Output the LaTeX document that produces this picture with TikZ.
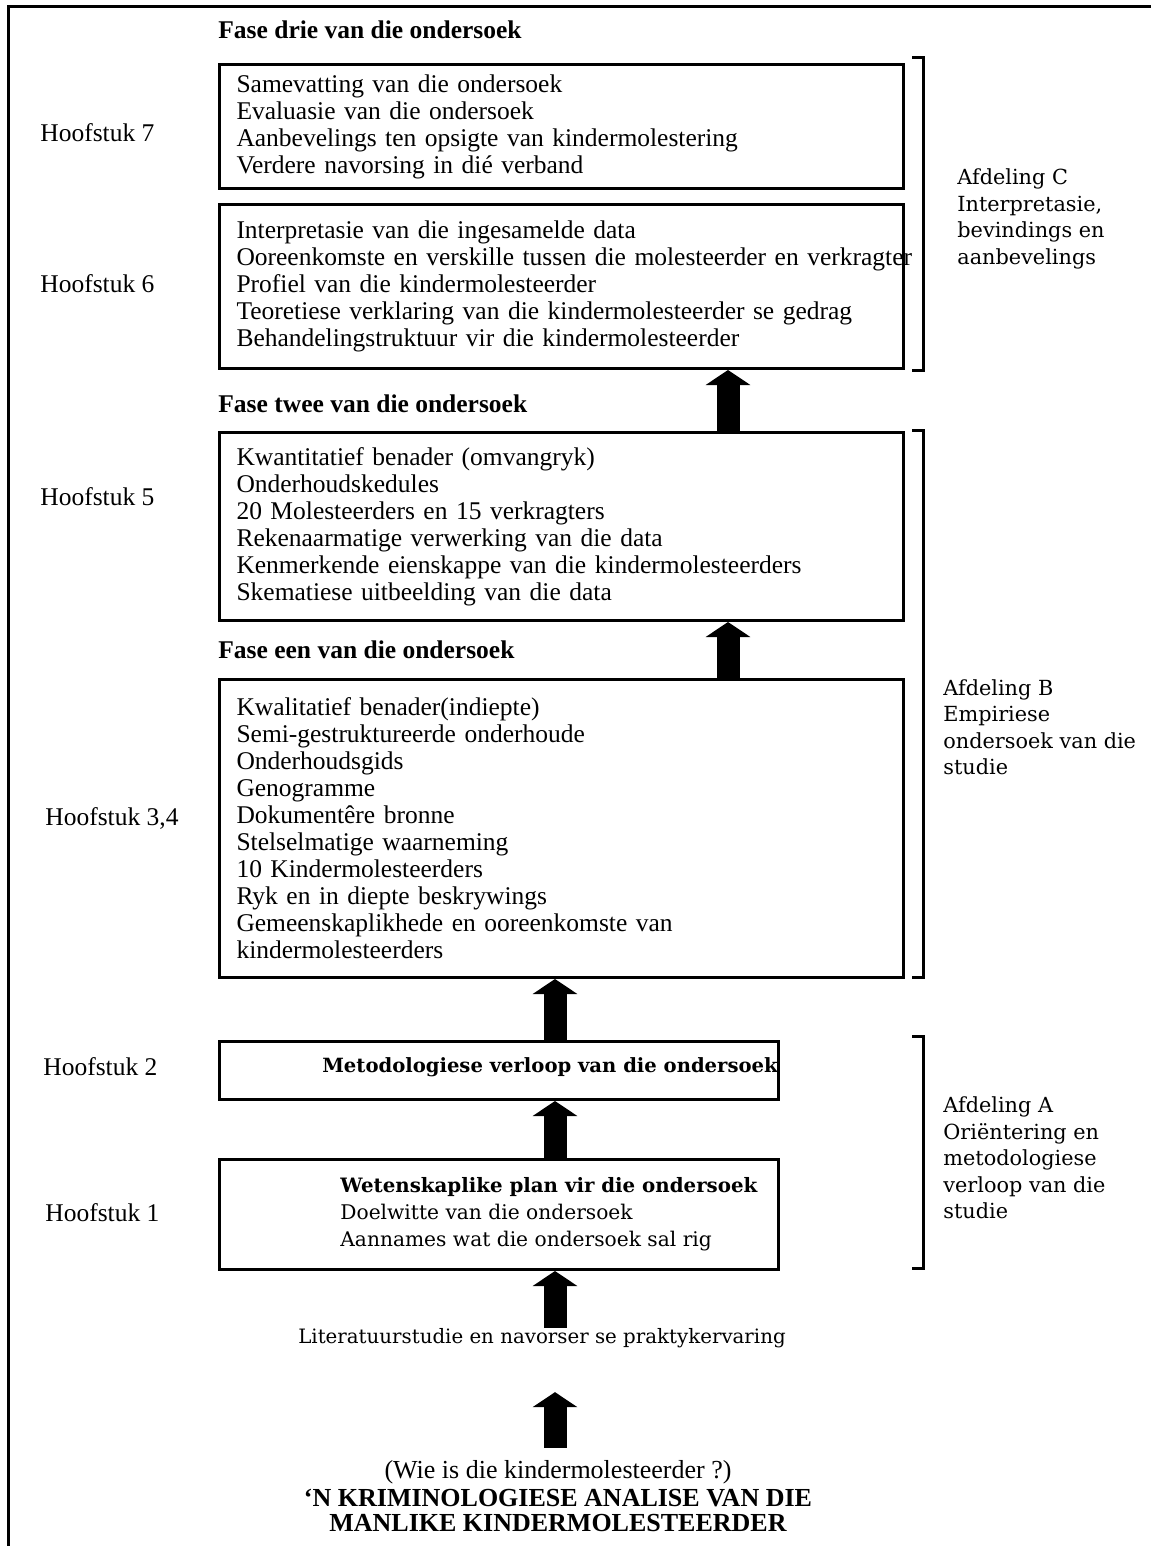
\documentclass[tikz,border=0pt]{standalone}
\usepackage{fontspec}
\setmainfont{Liberation Serif}
\newfontfamily\lucfont{DejaVu Serif}
\usetikzlibrary{arrows.meta}

\begin{document}
\begin{tikzpicture}[x=0.5pt,y=-0.5pt,
    stage/.style={draw, line width=1.5pt, anchor=north west, align=left, text width=325pt, inner xsep=8.5pt, inner ysep=0pt, font=\fontsize{12.75}{13.5}\selectfont},
    plainbox/.style={draw, line width=1.5pt, anchor=north west, minimum width=279.5pt, inner sep=0pt},
    hoof/.style={anchor=west, inner sep=0pt, font=\fontsize{12.75}{13.5}\selectfont},
    fase/.style={anchor=west, inner sep=0pt, font=\fontsize{12.75}{13.5}\selectfont\bfseries},
    afd/.style={anchor=west, align=left, inner sep=0pt, font=\lucfont\fontsize{10.4}{13.25}\selectfont},
    upar/.style={line width=11.5pt, -{Triangle[width=22pt,length=7.5pt]}},
    brak/.style={line width=1.5pt}
    ]
    \useasboundingbox (0,0) rectangle (1151,1546);
    \draw [line width=1.5pt] (8,1546) -- (8,7) -- (1151,7);

    % fase drie
    \node [fase] (fase3) at (218,30) {Fase drie van die ondersoek};
    \node [stage, minimum height=62pt] (box7) at (218,63) {Samevatting van die ondersoek\\Evaluasie van die ondersoek\\Aanbevelings ten opsigte van kindermolestering\\Verdere navorsing in dié verband};
    \node [stage, minimum height=82pt] (box6) at (218,203) {Interpretasie van die ingesamelde data\\\mbox{Ooreenkomste en verskille tussen die molesteerder en verkragter}\\Profiel van die kindermolesteerder\\Teoretiese verklaring van die kindermolesteerder se gedrag\\Behandelingstruktuur vir die kindermolesteerder};
    \node [hoof] (hs7) at (40,133) {Hoofstuk 7};
    \node [hoof] (hs6) at (40,284) {Hoofstuk 6};

    % fase twee
    \node [fase] (fase2) at (218,404) {Fase twee van die ondersoek};
    \node [stage, minimum height=94pt] (box5) at (218,431) {Kwantitatief benader (omvangryk)\\Onderhoudskedules\\20 Molesteerders en 15 verkragters\\Rekenaarmatige verwerking van die data\\Kenmerkende eienskappe van die kindermolesteerders\\Skematiese uitbeelding van die data};
    \node [hoof] (hs5) at (40,497) {Hoofstuk 5};

    % fase een
    \node [fase] (fase1) at (218,650) {Fase een van die ondersoek};
    \node [stage, minimum height=149pt] (box34) at (218,678) {Kwalitatief benader(indiepte)\\Semi-gestruktureerde onderhoude\\Onderhoudsgids\\Genogramme\\Dokumentêre bronne\\Stelselmatige waarneming\\10 Kindermolesteerders\\Ryk en in diepte beskrywings\\Gemeenskaplikhede en ooreenkomste van\\kindermolesteerders};
    \node [hoof] (hs34) at (45,818) {Hoofstuk 3,4};

    % afdeling A
    \node [plainbox, minimum height=29pt] (box2) at (218,1040) {};
    \node [font=\lucfont\bfseries\fontsize{9.8}{13.5}\selectfont, inner sep=0pt] (txt2) at (550,1067) {Metodologiese verloop van die ondersoek};
    \node [plainbox, minimum height=55pt] (box1) at (218,1158) {};
    \node [anchor=west, align=left, inner sep=0pt, font=\lucfont\fontsize{10.1}{13.5}\selectfont] (txt1) at (340,1214) {{\bfseries\fontsize{9.9}{13.5}\selectfont Wetenskaplike plan vir die ondersoek}\\Doelwitte van die ondersoek\\Aannames wat die ondersoek sal rig};
    \node [hoof] (hs2) at (43,1067) {Hoofstuk 2};
    \node [hoof] (hs1) at (45,1213) {Hoofstuk 1};

    \node [inner sep=0pt, font=\lucfont\fontsize{9.9}{13.5}\selectfont] (lit) at (542,1338) {Literatuurstudie en navorser se praktykervaring};
    \node [inner sep=0pt, font=\fontsize{13}{13.5}\selectfont] (wie) at (558,1472) {(Wie is die kindermolesteerder ?)};
    \node [align=center, inner sep=0pt, font=\fontsize{13}{12.5}\selectfont\bfseries] (titel) at (558,1510) {`N KRIMINOLOGIESE ANALISE VAN DIE\\MANLIKE KINDERMOLESTEERDER};

    % afdelings
    \draw [brak] (912,58) -- (923,58) -- (923,370) -- (912,370);
    \draw [brak] (912,430) -- (923,430) -- (923,977) -- (912,977);
    \draw [brak] (912,1036) -- (923,1036) -- (923,1268) -- (912,1268);
    \node [afd] (afdC) at (957,219) {Afdeling C\\Interpretasie,\\bevindings en\\aanbevelings};
    \node [afd] (afdB) at (943,727) {Afdeling B\\Empiriese\\ondersoek van die\\studie};
    \node [afd] (afdA) at (943,1158) {Afdeling A\\Oriëntering en\\metodologiese\\verloop van die\\studie};

    % pyle
    \coordinate (colL) at (555,0);
    \coordinate (colR) at (728,0);
    \draw [upar] (box5.north -| colR) -- (box6.south -| colR);
    \draw [upar] (box34.north -| colR) -- (box5.south -| colR);
    \draw [upar] (box2.north -| colL) -- (box34.south -| colL);
    \draw [upar] (box1.north -| colL) -- (box2.south -| colL);
    \draw [upar] (lit.north -| colL) -- (box1.south -| colL);
    \draw [upar, shorten <=6pt, shorten >=22pt] (wie.north -| colL) -- (lit.south -| colL);
\end{tikzpicture}
\end{document}
